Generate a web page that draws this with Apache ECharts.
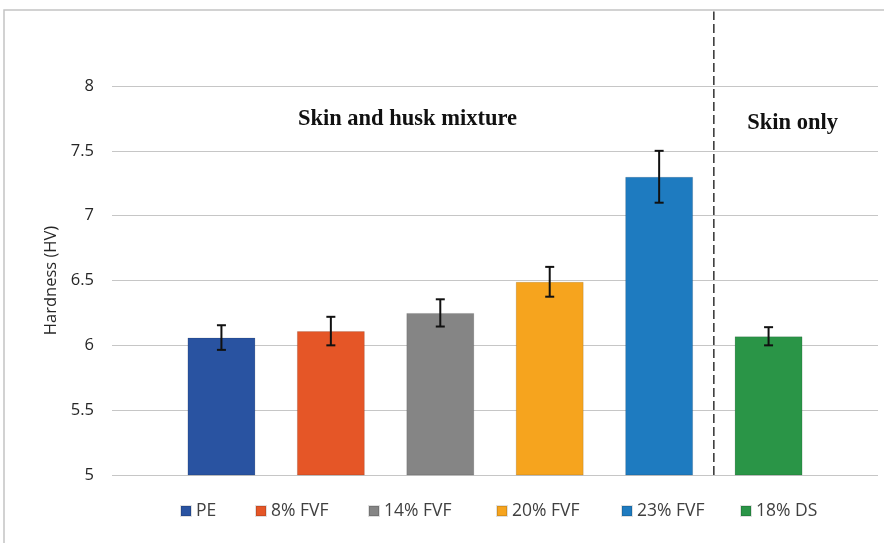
<!DOCTYPE html>
<html>
<head>
<meta charset="utf-8">
<script src="https://cdn.jsdelivr.net/npm/echarts@6/dist/echarts.min.js"></script>
<style>html,body{margin:0;padding:0;background:#fff;}#c{width:884px;height:543px;}</style>
</head>
<body>
<div id="c"></div>
<script>
// ---- data ----
const categories = ['PE', '8% FVF', '14% FVF', '20% FVF', '23% FVF', '18% DS'];
const hardness = [6.06, 6.11, 6.25, 6.49, 7.30, 6.07];
const errors = [0.095, 0.11, 0.105, 0.115, 0.20, 0.07];
const colors = ['#2953A1', '#E55627', '#858585', '#F6A41E', '#1E7BC0', '#2A9547'];
const yTicks = [5, 5.5, 6, 6.5, 7, 7.5, 8];
const dividerX = 4.5;
const groupLabels = [
  {text: 'Skin and husk mixture', x: 1.70, y: 7.745},
  {text: 'Skin only', x: 5.22, y: 7.71}
];

// layout (legend item left edges, pixels)
const legendLefts = [180, 255, 368, 496, 621, 740];

const chart = echarts.init(document.getElementById('c'), null, {renderer: 'canvas'});

const barSeries = categories.map((name, i) => ({
  name: name,
  type: 'bar',
  data: [[i, hardness[i]]],
  barWidth: 68,
  barGap: '-100%',
  itemStyle: {color: colors[i], borderColor: 'rgba(0,0,0,0.12)', borderWidth: 1},
  z: 2
}));

const errSeries = {
  type: 'custom',
  name: 'err',
  data: hardness.map((v, i) => [i, v - errors[i], v + errors[i]]),
  renderItem: function (params, api) {
    const x = api.value(0);
    const lo = api.coord([x, api.value(1)]);
    const hi = api.coord([x, api.value(2)]);
    const cw = 4.5;
    const st = {stroke: '#111', lineWidth: 2};
    return {type: 'group', children: [
      {type: 'line', shape: {x1: lo[0], y1: lo[1], x2: hi[0], y2: hi[1]}, style: st},
      {type: 'line', shape: {x1: lo[0]-cw, y1: lo[1], x2: lo[0]+cw, y2: lo[1]}, style: st},
      {type: 'line', shape: {x1: hi[0]-cw, y1: hi[1], x2: hi[0]+cw, y2: hi[1]}, style: st}
    ]};
  },
  z: 5,
  silent: true
};

const dividerSeries = {
  type: 'custom',
  name: 'divider',
  clip: false,
  data: [[dividerX, 5, 8.575]],
  renderItem: function (params, api) {
    const a = api.coord([api.value(0), api.value(1)]);
    const b = api.coord([api.value(0), api.value(2)]);
    return {type: 'line', shape: {x1: a[0], y1: a[1], x2: b[0], y2: b[1]},
      style: {stroke: '#111', lineWidth: 1.3, lineDash: [9, 4]}};
  },
  z: 4,
  silent: true
};

const labelSeries = {
  type: 'custom',
  name: 'labels',
  clip: false,
  data: groupLabels.map(g => [g.x, g.y]),
  renderItem: function (params, api) {
    const p = api.coord([api.value(0), api.value(1)]);
    return {type: 'text', x: p[0], y: p[1], style: {
      text: groupLabels[params.dataIndex].text,
      fontFamily: '"Liberation Serif", "Times New Roman", serif',
      fontWeight: 'bold', fontSize: 22.5, fill: '#111',
      align: 'center', verticalAlign: 'middle'}};
  },
  z: 6,
  silent: true
};

const legends = categories.map((name, i) => ({
  data: [name],
  left: legendLefts[i],
  top: 502,
  icon: 'rect',
  itemWidth: 10,
  itemHeight: 10,
  padding: 0,
  textStyle: {fontFamily: '"Open Sans", "Liberation Sans", sans-serif', fontSize: 17.5, color: '#404040'}
}));

chart.setOption({
  animation: false,
  backgroundColor: '#fff',
  graphic: [{
    type: 'rect', shape: {x: 4, y: 10, width: 1000, height: 700},
    style: {fill: 'none', stroke: '#c4c4c4', lineWidth: 1.5}, z: -1, silent: true
  }],
  grid: {left: 112, right: 6, top: 86, bottom: 68, containLabel: false},
  legend: legends,
  xAxis: {
    type: 'value', min: -1, max: 6,
    axisLine: {show: false}, axisTick: {show: false}, axisLabel: {show: false}, splitLine: {show: false}
  },
  yAxis: {
    type: 'value', min: yTicks[0], max: yTicks[yTicks.length-1], interval: 0.5,
    name: 'Hardness (HV)', nameLocation: 'middle', nameGap: 52,
    nameTextStyle: {fontFamily: '"Open Sans", "Liberation Sans", sans-serif', fontSize: 16.5, color: '#262626'},
    axisLine: {show: false}, axisTick: {show: false},
    axisLabel: {margin: 18, fontFamily: '"Open Sans", "Liberation Sans", sans-serif', fontSize: 16.5, color: '#262626',
      formatter: v => String(v)},
    splitLine: {lineStyle: {color: '#c6c6c6', width: 1.2}}
  },
  series: [...barSeries, errSeries, dividerSeries, labelSeries]
});
</script>
</body>
</html>
